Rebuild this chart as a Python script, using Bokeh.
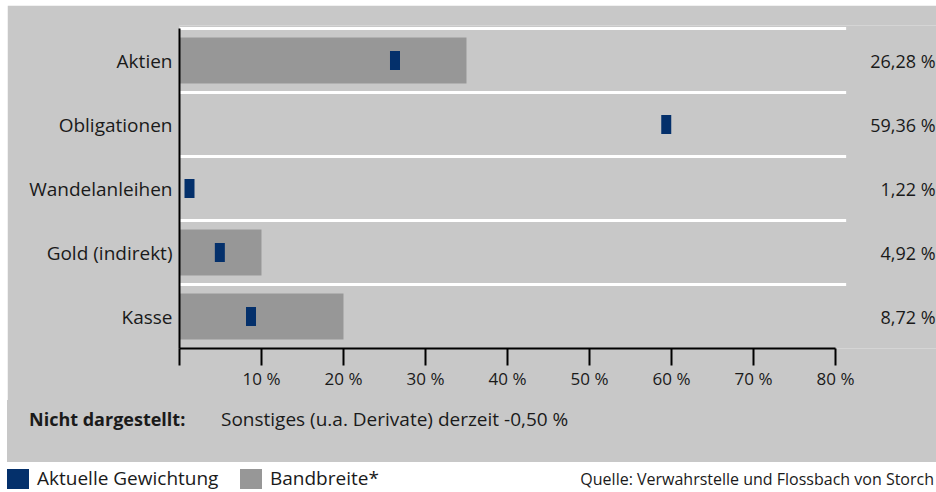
import html
from bokeh.plotting import figure
from bokeh.layouts import column
from bokeh.models import Range1d, FixedTicker, Div
from bokeh.core.properties import value
from bokeh.embed import file_html
from bokeh.resources import INLINE

# ---------------- data ----------------
categories = ["Aktien", "Obligationen", "Wandelanleihen", "Gold (indirekt)", "Kasse"]
current_weight = [26.28, 59.36, 1.22, 4.92, 8.72]
current_labels = ["26,28 %", "59,36 %", "1,22 %", "4,92 %", "8,72 %"]
band_categories = ["Aktien", "Gold (indirekt)", "Kasse"]
band_low = [0, 0, 0]
band_high = [35, 10, 20]
x_ticks = [0, 10, 20, 30, 40, 50, 60, 70, 80]
x_tick_labels = ["", "10 %", "20 %", "30 %", "40 %", "50 %", "60 %", "70 %", "80 %"]
note_label = "Nicht dargestellt:"
note_text = "Sonstiges (u.a. Derivate) derzeit -0,50 %"
legend_labels = ["Aktuelle Gewichtung", "Bandbreite*"]
source_text = "Quelle: Verwahrstelle und Flossbach von Storch"

# ---------------- style ----------------
PANEL = "#c8c8c8"
BAND = "#979797"
BLUE = "#04306b"
INK = "#1a1a1a"
FONT = "Open Sans"

n = len(categories)
pos = {c: i for i, c in enumerate(categories)}

PX_PER_PCT = 8.2
PX_PER_CAT = 64
PAGE_W = 936
OFF_X, OFF_Y = 7, 5
W, H = PAGE_W - OFF_X, 395
LEFT, TOP, BOTTOM = 172, 20, 52
frame_w = W - LEFT
frame_h = H - TOP - BOTTOM
x_end = frame_w / PX_PER_PCT
y_start = n - 0.5
y_end = y_start - frame_h / PX_PER_CAT
GRID_END = 81.3

p = figure(width=W, height=H, x_range=Range1d(0, x_end), y_range=Range1d(y_start, y_end),
           output_backend="svg", toolbar_location=None,
           min_border_left=LEFT, min_border_right=0, min_border_top=TOP, min_border_bottom=BOTTOM,
           background_fill_color=PANEL, border_fill_color=PANEL, outline_line_color=None,
           margin=(OFF_Y, 0, 0, OFF_X))
p.grid.visible = False

sep = [i - 0.5 for i in range(n)]
p.segment(x0=[0] * n, x1=[GRID_END] * n, y0=sep, y1=sep, line_color="white", line_width=3)

p.hbar(y=[pos[c] for c in band_categories], left=band_low, right=band_high, height=0.72,
       fill_color=BAND, line_color=None)

p.rect(x=current_weight, y=list(range(n)), width=10, height=19, width_units="screen",
       height_units="screen", fill_color=BLUE, line_color=None)

p.text(x=[x_end - 0.12] * n, y=list(range(n)), text=current_labels, text_align="right",
       text_baseline="middle", text_font=value(FONT), text_font_size=value("18px"), text_color=INK)

xa = p.xaxis[0]
xa.ticker = FixedTicker(ticks=x_ticks)
xa.major_label_overrides = dict(zip(x_ticks, x_tick_labels))
xa.bounds = (0, 80)
xa.axis_line_color = "black"
xa.axis_line_width = 2
xa.major_tick_line_color = "black"
xa.major_tick_line_width = 2
xa.major_tick_out = 17
xa.major_tick_in = 0
xa.minor_tick_line_color = None
xa.major_label_standoff = 1
xa.major_label_text_font = FONT
xa.major_label_text_font_size = "17px"
xa.major_label_text_color = INK

ya = p.yaxis[0]
ya.ticker = FixedTicker(ticks=list(range(n)))
ya.major_label_overrides = {i: c for i, c in enumerate(categories)}
ya.bounds = (-0.5, n - 0.5)
ya.axis_line_color = "black"
ya.axis_line_width = 2
ya.major_tick_line_color = None
ya.major_tick_out = 0
ya.major_tick_in = 0
ya.minor_tick_line_color = None
ya.major_label_standoff = 7
ya.major_label_text_font = FONT
ya.major_label_text_font_size = "19px"
ya.major_label_text_color = INK

# ---------------- note strip (grey) + legend row (white) ----------------
DIV_H = 492 - (OFF_Y + H)
e = html.escape
box = "position:absolute;white-space:nowrap;line-height:24px;"
foot_html = (
    f'<div style="position:relative;width:{PAGE_W}px;height:{DIV_H}px;overflow:hidden;'
    f'font-family:\'{FONT}\';color:{INK};">'
    f'<div style="position:absolute;left:{OFF_X}px;top:0;width:{PAGE_W - OFF_X}px;height:62px;background:{PANEL};"></div>'
    f'<div style="{box}left:29px;top:7px;font-size:18px;font-weight:bold;">{e(note_label)}</div>'
    f'<div style="{box}left:221px;top:7px;font-size:19px;">{e(note_text)}</div>'
    f'<div style="position:absolute;left:7px;top:69px;width:22px;height:20px;background:{BLUE};"></div>'
    f'<div style="{box}left:37px;top:66px;font-size:19px;">{e(legend_labels[0])}</div>'
    f'<div style="position:absolute;left:240px;top:69px;width:22px;height:20px;background:{BAND};"></div>'
    f'<div style="{box}left:270px;top:66px;font-size:19px;">{e(legend_labels[1])}</div>'
    f'<div style="{box}right:2px;top:67px;font-size:16px;">{e(source_text)}</div>'
    '</div>'
)
foot = Div(text=foot_html, width=PAGE_W, height=DIV_H, margin=0)

layout = column(p, foot, spacing=0)
open("out.html", "w").write(file_html(layout, INLINE, title="Asset allocation"))
